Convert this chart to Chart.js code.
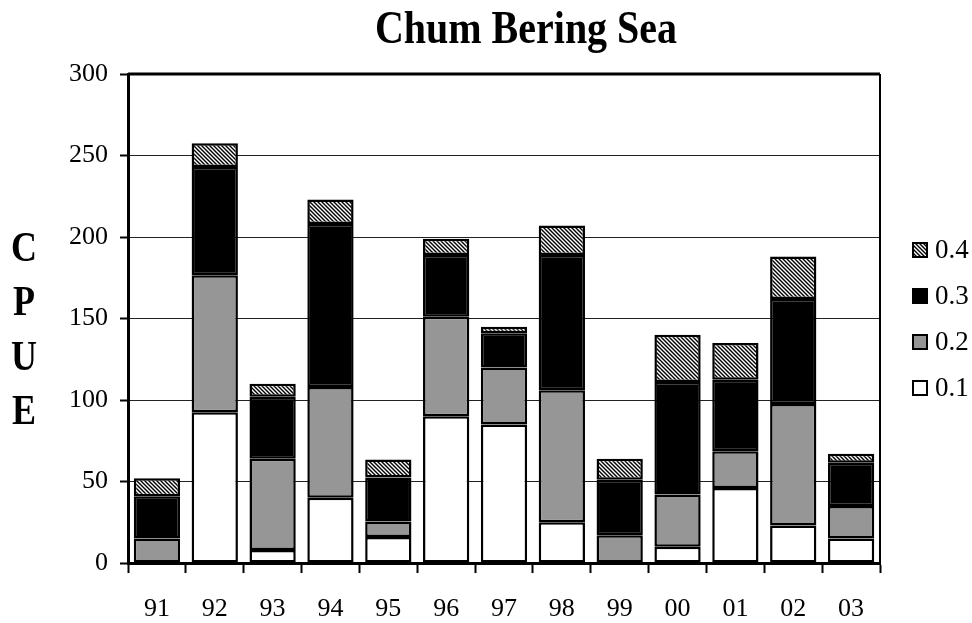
<!DOCTYPE html>
<html>
<head>
<meta charset="utf-8">
<script src="https://cdn.jsdelivr.net/npm/chart.js@4/dist/chart.umd.min.js"></script>
<style>
  html, body { margin: 0; padding: 0; background: #fff; }
  #wrap { width: 972px; height: 623px; }
</style>
</head>
<body>
<div id="wrap"><canvas id="graphique"></canvas></div>
<script>
const annees = ["91", "92", "93", "94", "95", "96", "97", "98", "99", "00", "01", "02", "03"];
const age01 = [0, 92.5, 8, 40, 16, 90, 85, 25, 0, 10, 46, 23, 15];
const age02 = [15, 84, 56, 68, 9.5, 61, 35, 81, 17, 32, 22.5, 74.5, 20];
const age03 = [26, 66.5, 38, 100, 27, 38, 21, 83, 34, 69, 44, 64.5, 26.5];
const age04 = [11, 14.5, 8, 15, 11, 10, 4, 18, 13, 29, 22.5, 26, 5.5];
const serieLabels = ["0.1", "0.2", "0.3", "0.4"];
const yTicks = [0, 50, 100, 150, 200, 250, 300];

const police = "'Liberation Serif', 'Times New Roman', serif";

// hachures pour la serie 0.4
function hachures() {
	const c = document.createElement("canvas");
	c.width = 4;
	c.height = 4;
	const g = c.getContext("2d");
	g.fillStyle = "#fff";
	g.fillRect(0, 0, 4, 4);
	g.strokeStyle = "#000";
	g.lineWidth = 1.4;
	g.beginPath();
	g.moveTo(-1, -1); g.lineTo(5, 5);
	g.moveTo(-1, 3); g.lineTo(1, 5);
	g.moveTo(3, -1); g.lineTo(5, 1);
	g.stroke();
	return g.createPattern(c, "repeat");
}

const couleurs = ["#ffffff", "#969696", "#000000", hachures()];
const valeurs = [age01, age02, age03, age04];

const datasets = serieLabels.map((lab, i) => ({
	label: lab,
	// une valeur nulle ne dessine pas de barre
	data: valeurs[i].map((v) => (v === 0 ? null : v)),
	backgroundColor: couleurs[i],
	borderColor: "#000",
	borderWidth: 2.5,
	borderSkipped: false,
	barPercentage: 0.8,
	categoryPercentage: 1,
}));

const decor = {
	id: "decor",
	afterDraw(chart) {
		const ctx = chart.ctx;
		const a = chart.chartArea;
		ctx.save();
		// cadre haut et droite
		ctx.strokeStyle = "#000";
		ctx.lineWidth = 3;
		ctx.beginPath();
		ctx.moveTo(a.left, a.top);
		ctx.lineTo(a.right, a.top);
		ctx.stroke();
		ctx.lineWidth = 2;
		ctx.beginPath();
		ctx.moveTo(a.right, a.top);
		ctx.lineTo(a.right, a.bottom);
		ctx.stroke();

		ctx.fillStyle = "#000";
		ctx.textAlign = "center";
		ctx.textBaseline = "middle";

		// titre (un peu etire en hauteur comme l'original)
		ctx.save();
		ctx.translate(526, 31);
		ctx.scale(1, 1.15);
		ctx.font = "bold 40px " + police;
		ctx.fillText("Chum Bering Sea", 0, 0);
		ctx.restore();

		// titre axe Y, lettres empilees
		const lettres = ["C", "P", "U", "E"];
		lettres.forEach((l, i) => {
			ctx.save();
			ctx.translate(24, 250 + i * 54.5);
			ctx.scale(1, 1.15);
			ctx.font = "bold 36px " + police;
			ctx.fillText(l, 0, 0);
			ctx.restore();
		});

		// legende
		const ds = chart.data.datasets;
		ctx.font = "27px " + police;
		ctx.textAlign = "left";
		for (let i = 0; i < ds.length; i++) {
			const y = 388 - i * 46;
			ctx.fillStyle = ds[i].backgroundColor;
			ctx.fillRect(912, y - 8, 16, 16);
			ctx.lineWidth = 2;
			ctx.strokeStyle = "#000";
			ctx.strokeRect(913, y - 7, 14, 14);
			ctx.fillStyle = "#000";
			ctx.fillText(ds[i].label, 935, y + 1);
		}
		ctx.restore();
	},
};

const config = {
	type: "bar",
	data: { labels: annees, datasets: datasets },
	options: {
		responsive: true,
		maintainAspectRatio: false,
		animation: false,
		layout: { padding: { top: 74, right: 92, left: 0, bottom: 0 } },
		plugins: {
			legend: { display: false },
			tooltip: { enabled: false },
		},
		scales: {
			x: {
				stacked: true,
				grid: {
					drawOnChartArea: false,
					drawTicks: true,
					tickLength: 10,
					tickWidth: 2,
					tickColor: "#000",
					offset: true,
				},
				border: { display: true, color: "#000", width: 3 },
				ticks: {
					color: "#000",
					font: { family: police, size: 26 },
					padding: 21,
					maxRotation: 0,
				},
				afterFit: (s) => { s.height = 60; },
			},
			y: {
				stacked: true,
				min: 0,
				max: 300,
				afterBuildTicks: (s) => { s.ticks = yTicks.map((v) => ({ value: v })); },
				grid: {
					color: "#222",
					lineWidth: 1,
					drawTicks: true,
					tickLength: 8,
					tickWidth: 2,
					tickColor: "#000",
				},
				border: { display: true, color: "#000", width: 3 },
				ticks: {
					color: "#000",
					font: { family: police, size: 26 },
					padding: 12,
				},
				afterFit: (s) => { s.width = 128; },
			},
		},
	},
	plugins: [decor],
};

new Chart(document.querySelector("#graphique"), config);
</script>
</body>
</html>
